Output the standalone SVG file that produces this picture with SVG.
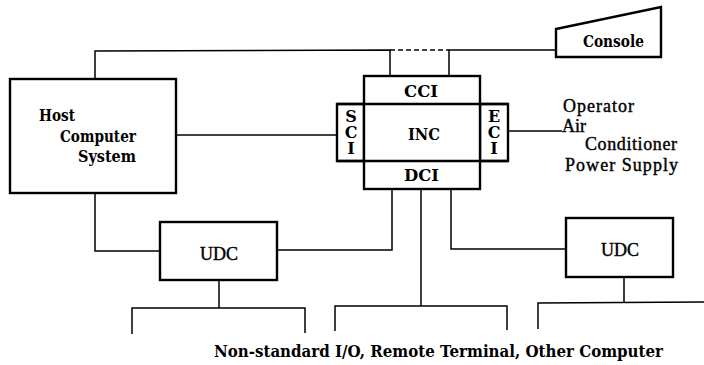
<svg xmlns="http://www.w3.org/2000/svg" width="704" height="365" viewBox="0 0 704 365">
<style>
.box{fill:#fff;stroke:#000;stroke-width:2.4}
.ln{fill:none;stroke:#000;stroke-width:1.5}
.dash{fill:none;stroke:#000;stroke-width:1.5;stroke-dasharray:5 3}
text{font-family:"DejaVu Serif","Liberation Serif",serif;font-size:16px;fill:#000;font-weight:bold}
.c{text-anchor:middle}
.v{writing-mode:vertical-lr;text-orientation:upright;letter-spacing:-3px}
.r{font-family:"Liberation Serif","Times New Roman",serif;font-size:18px;font-weight:normal;stroke:#000;stroke-width:0.4}
</style>
<rect width="704" height="365" fill="#fff"/>
<g id="connectors">
<polyline class="ln" points="95,79 95,51 390,50 390,76"/>
<line class="dash" x1="390" y1="50" x2="449" y2="50"/>
<polyline class="ln" points="449,76 449,50 556,50"/>
<line class="ln" x1="176" y1="135" x2="337" y2="135"/>
<line class="ln" x1="508" y1="131" x2="562" y2="131"/>
<polyline class="ln" points="95,193 95,251 160,251"/>
<polyline class="ln" points="277,250 392,250 392,189"/>
<polyline class="ln" points="451,189 451,249 566,249"/>
<line class="ln" x1="421" y1="189" x2="421" y2="306"/>
<polyline class="ln" points="335,331 335,306 507,306 507,330"/>
<line class="ln" x1="219" y1="280" x2="219" y2="308"/>
<polyline class="ln" points="132,334 132,308 305,308 305,333"/>
<line class="ln" x1="624" y1="277" x2="624" y2="303"/>
<polyline class="ln" points="538,329 538,303 704,302"/>
</g>
<g id="host">
<rect class="box" x="10" y="79" width="166" height="114"/>
<text x="39" y="121" textLength="36" lengthAdjust="spacingAndGlyphs">Host</text>
<text x="60" y="142" textLength="76" lengthAdjust="spacingAndGlyphs">Computer</text>
<text x="78" y="162" textLength="58" lengthAdjust="spacingAndGlyphs">System</text>
</g>
<g id="console">
<polygon class="box" points="556,29 661,7 661,57 556,57"/>
<text x="583" y="47" textLength="61" lengthAdjust="spacingAndGlyphs">Console</text>
</g>
<g id="sci">
<rect class="box" x="337" y="104" width="27" height="57"/>
<text class="v" x="351" y="107">SCI</text>
</g>
<g id="eci">
<rect class="box" x="480" y="104" width="28" height="57"/>
<text class="v" x="494" y="107">ECI</text>
</g>
<g id="inc">
<rect class="box" x="364" y="76" width="116" height="113"/>
<line class="box" x1="337" y1="104" x2="508" y2="104"/>
<line class="box" x1="337" y1="161" x2="508" y2="161"/>
<text x="404" y="97" textLength="34" lengthAdjust="spacingAndGlyphs">CCI</text>
<text x="408" y="140" textLength="32" lengthAdjust="spacingAndGlyphs">INC</text>
<text x="404" y="181" textLength="35" lengthAdjust="spacingAndGlyphs">DCI</text>
</g>
<g id="external">
<text class="r" x="563" y="112" textLength="71" lengthAdjust="spacing">Operator</text>
<text class="r" x="562" y="132">Air</text>
<text class="r" x="585" y="150" textLength="92" lengthAdjust="spacing">Conditioner</text>
<text class="r" x="565" y="171" textLength="113" lengthAdjust="spacing">Power Supply</text>
</g>
<g id="udc1">
<rect class="box" x="160" y="222" width="117" height="58"/>
<text class="c r" x="219" y="260">UDC</text>
</g>
<g id="udc2">
<rect class="box" x="566" y="218" width="107" height="59"/>
<text class="c r" x="620" y="256">UDC</text>
</g>
<g id="devices">
<text x="214" y="357" textLength="449" lengthAdjust="spacingAndGlyphs">Non-standard I/O, Remote Terminal, Other Computer</text>
</g>
</svg>
